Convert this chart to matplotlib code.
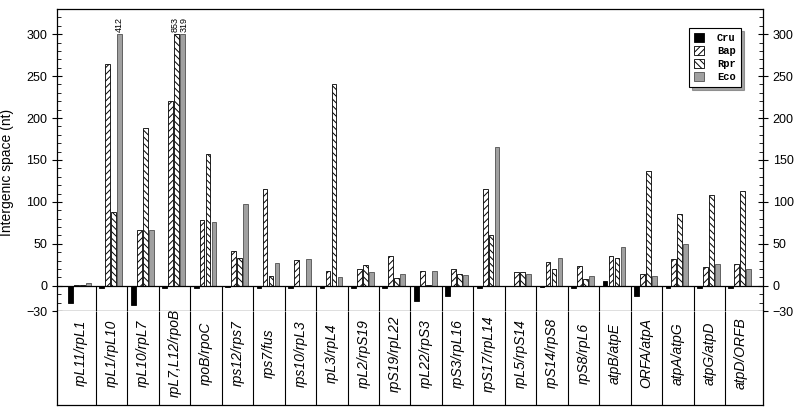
import numpy as np
import matplotlib
matplotlib.use("Agg")
import matplotlib.pyplot as plt
from matplotlib.ticker import MultipleLocator

plt.rcParams['font.family'] = ['Liberation Sans', 'DejaVu Sans']
plt.rcParams['hatch.linewidth'] = 0.7

# intergenic spaces (nt); values above 300 are cut and written above the bar
pairs = ['rpL11/rpL1', 'rpL1/rpL10', 'rpL10/rpL7', 'rpL7,L12/rpoB', 'rpoB/rpoC',
         'rps12/rps7', 'rps7/fus', 'rps10/rpL3', 'rpL3/rpL4', 'rpL2/rpS19',
         'rpS19/rpL22', 'rpL22/rpS3', 'rpS3/rpL16', 'rpS17/rpL14', 'rpL5/rpS14',
         'rpS14/rpS8', 'rpS8/rpL6', 'atpB/atpE', 'ORFA/atpA', 'atpA/atpG',
         'atpG/atpD', 'atpD/ORFB']
cru = [-20, -2, -23, -2, -2, -1, -2, -2, -2, -2, -2, -18, -12, -2, 0, -1, -2, 6, -12, -2, -2, -2]
bap = [1.5, 265, 67, 220, 78, 42, 115, 31, 18, 20, 36, 18, 20, 115, 17, 28, 24, 36, 14, 32, 23, 26]
rpr = [1.5, 88, 188, 853, 157, 33, 12, 0, 240, 25, 9, 1, 14, 61, 17, 20, 8, 33, 137, 86, 108, 113]
eco = [3, 412, 67, 319, 76, 97, 27, 32, 10, 16, 14, 18, 13, 165, 14, 33, 12, 46, 12, 50, 26, 20]

names = ['Cru', 'Bap', 'Rpr', 'Eco']
series = [cru, bap, rpr, eco]
faces = ['black', 'white', 'white', '#a0a0a0']
edges = ['black', 'black', 'black', '#505050']
hatches = [None, '/////', '\\\\\\\\\\', None]

CAP = 300
x = np.arange(len(pairs))
xlim = (-0.74, len(pairs) - 1 + 0.71)

fig = plt.figure(figsize=(8, 4.13), dpi=100)
ax = fig.add_axes([57 / 800, 1 - 311 / 413, 706 / 800, 302 / 413])
tab = fig.add_axes([57 / 800, 1 - 405 / 413, 706 / 800, 94 / 413])

w = 0.15
for k, vals in enumerate(series):
    pos = x + (k - 1.5) * 0.19 - 0.03
    shown = [min(v, CAP) for v in vals]
    ax.bar(pos, shown, width=w, color=faces[k], edgecolor=edges[k],
           hatch=hatches[k], linewidth=0.6, label=names[k])

# numbers for the cut bars, spread apart a little when two share a group
for i in x:
    over = [k for k in range(4) if series[k][i] > CAP]
    for j, k in enumerate(over):
        nudge = 0 if len(over) == 1 else (j - 0.5) * 0.12
        p = i + (k - 1.5) * 0.19 - 0.03 + nudge
        ax.text(p, CAP + 3, str(series[k][i]), rotation=90, ha='center',
                va='bottom', fontsize=6.5)

ax.axhline(0, color='black', lw=0.9)
ax.vlines(x[:-1] + 0.5, -30, 0, color='black', lw=0.8)
ax.set_xlim(xlim)
ax.set_ylim(-30, 330)
ax.set_xticks([])
ax.set_yticks([-30, 0, 50, 100, 150, 200, 250, 300])
ax.yaxis.set_minor_locator(MultipleLocator(10))
ax.tick_params(axis='y', which='major', direction='inout', length=7, labelsize=9,
               left=True, right=True, labelleft=True, labelright=True)
ax.tick_params(axis='y', which='minor', direction='in', length=3, left=True, right=True)
ax.set_ylabel('Intergenic space (nt)', fontsize=10)
ax.yaxis.set_label_coords(-0.061, 0.46)
for s in ax.spines.values():
    s.set_linewidth(0.9)

leg = ax.legend(loc='upper right', bbox_to_anchor=(0.976, 0.955), frameon=True,
                shadow=True, fancybox=False, handlelength=1.0, handleheight=1.0,
                handletextpad=1.2, borderpad=0.5, labelspacing=0.25,
                prop={'family': 'Liberation Mono', 'weight': 'bold', 'size': 7.5})
leg.get_frame().set_edgecolor('black')
leg.get_frame().set_linewidth(0.8)

# label table under the plot
tab.set_xlim(xlim)
tab.set_ylim(0, 1)
tab.vlines(x[:-1] + 0.5, 0, 1, color='black', lw=0.8)
for xi, name in zip(x, pairs):
    tab.text(xi, 0.55, name, rotation=90, ha='center', va='center',
             fontsize=10, style='italic')
tab.set_xticks([])
tab.set_yticks([])
tab.spines['top'].set_visible(False)
for s in tab.spines.values():
    s.set_linewidth(0.9)

fig.savefig('out.png', dpi=100)
